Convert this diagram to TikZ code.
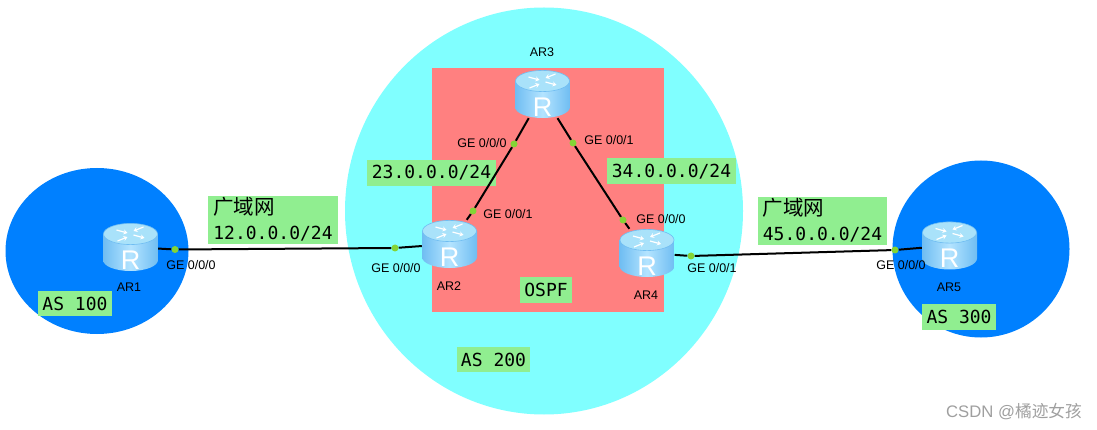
\documentclass[tikz,border=0pt]{standalone}
\usepackage{fontspec}
\setmainfont{Liberation Sans}
\setmonofont{DejaVu Sans Mono}
\newfontfamily\cjkfont{Noto Sans CJK SC}
\usepackage{xcolor}
\usepackage{tikz}
\usetikzlibrary{arrows.meta,positioning,shapes.geometric}
\definecolor{asblue}{HTML}{0080FF}
\definecolor{ascyan}{HTML}{80FFFF}
\definecolor{ospfred}{HTML}{FF8080}
\definecolor{tagbg}{HTML}{90EE90}
\definecolor{portdot}{HTML}{84D435}
\definecolor{routerside}{HTML}{6FBDF2}
\definecolor{routermid}{HTML}{B4E4FF}
\definecolor{routertop}{HTML}{A9E2FA}
\tikzset{
  region/.style={ellipse, inner sep=0pt},
  tag/.style={rectangle, fill=tagbg, inner sep=0pt, align=left,
              font=\ttfamily\fontsize{18}{25}\selectfont},
  port/.style={circle, minimum size=7pt, inner sep=0pt},
  portname/.style={inner sep=0pt, font=\fontsize{12.5}{14}\selectfont},
  routername/.style={inner sep=0pt, font=\fontsize{12.5}{14}\selectfont},
  link/.style={draw=black, line width=2pt},
  flow/.style={white, line width=1.2pt, -{Stealth[length=4pt,width=5pt]}},
  routermark/.style={inner sep=0pt, text=white, yshift=-13pt,
                     font=\fontsize{27}{27}\selectfont},
  router/.style={rectangle, minimum width=55pt, minimum height=48pt, inner sep=0pt,
    label={[routermark]center:R},
    path picture={
      \begin{scope}[shift={(path picture bounding box.center)}]
        \shade[left color=routerside, right color=routerside, middle color=routermid]
          (-27.5,-13) -- (-27.5,13) arc (180:360:27.5pt and 11pt) -- (27.5,-13) -- cycle;
        \filldraw[fill=routertop, draw=routerside, line width=0.6pt]
          (0,-13) ellipse (27pt and 10.6pt);
        \draw[flow] (-14,-17) -- (-3,-14);
        \draw[flow] (3,-12) -- (14,-9);
        \draw[flow] (13,-20) -- (3,-16);
        \draw[flow] (-13,-6) -- (-3,-10);
      \end{scope}
    }},
}
\begin{document}
\begin{tikzpicture}[x=1pt,y=-1pt]
  \useasboundingbox (0,0) rectangle (1097,430);
  \node[region, fill=asblue, minimum width=183pt, minimum height=166pt] (as100) at (97,251) {};
  \node[region, fill=asblue, minimum width=177pt, minimum height=177pt] (as300) at (981,249) {};
  \node[region, fill=ascyan, minimum width=398pt, minimum height=407pt] (as200) at (544,211) {};
  \node[rectangle, fill=ospfred, minimum width=232pt, minimum height=244pt, inner sep=0pt] (ospf) at (548,190) {};

  \node[tag, minimum width=130pt, minimum height=48pt] (wan12) at (273,220)
    {\raisebox{2.5pt}{\cjkfont\fontsize{20.5}{25}\selectfont 广域网}\\\raisebox{2.5pt}{12.0.0.0/24}};
  \node[tag, minimum width=129pt, minimum height=48pt] (wan45) at (822.5,221)
    {\raisebox{2.5pt}{\cjkfont\fontsize{20.5}{25}\selectfont 广域网}\\\raisebox{2.5pt}{45.0.0.0/24}};
  \node[tag, minimum width=129pt, minimum height=26pt] (net23) at (431.5,173) {23.0.0.0/24};
  \node[tag, minimum width=129pt, minimum height=26pt] (net34) at (671.5,171.5) {34.0.0.0/24};
  \node[tag, minimum width=52pt, minimum height=26pt] (tagospf) at (546,290) {OSPF};
  \node[tag, minimum width=74pt, minimum height=25pt] (tag100) at (75,303.5) {AS 100};
  \node[tag, minimum width=73pt, minimum height=25pt] (tag200) at (493.5,359.5) {AS 200};
  \node[tag, minimum width=74pt, minimum height=26pt] (tag300) at (959,317) {AS 300};

  \node[router] (ar1) at (130.5,247) {};
  \node[router] (ar2) at (449.5,244) {};
  \node[router] (ar3) at (542.5,94)  {};
  \node[router] (ar4) at (647,253)   {};
  \node[router] (ar5) at (949.5,245.5) {};

  \node[port] (p1a) at (175,249.5) {};
  \node[port] (p1b) at (395,248)   {};
  \node[port] (p2a) at (473,211)   {};
  \node[port] (p2b) at (514,144)   {};
  \node[port] (p3a) at (573,143)   {};
  \node[port] (p3b) at (623,220)   {};
  \node[port] (p4a) at (691,256)   {};
  \node[port] (p4b) at (895,250)   {};
  \draw[link] (ar1) -- (p1a) -- (p1b) -- (ar2);
  \draw[link] (ar2) -- (p2a) -- (p2b) -- (ar3);
  \draw[link] (ar3) -- (p3a) -- (p3b) -- (ar4);
  \draw[link] (ar4) -- (p4a) -- (p4b) -- (ar5);
  \foreach \p in {p1a,p1b,p2a,p2b,p3a,p3b,p4a,p4b}
    \fill[portdot] (\p) circle (3.5pt);

  \node[routername] (name1) at (129,287) {AR1};
  \node[routername] (name2) at (449,286) {AR2};
  \node[routername] (name3) at (542,52)  {AR3};
  \node[routername] (name4) at (646,295) {AR4};
  \node[routername] (name5) at (949,287) {AR5};

  \node[portname] (ge1a) at (191,265) {GE 0/0/0};
  \node[portname] (ge1b) at (396,268) {GE 0/0/0};
  \node[portname] (ge2a) at (508,214) {GE 0/0/1};
  \node[portname] (ge2b) at (482,143) {GE 0/0/0};
  \node[portname] (ge3a) at (609,140) {GE 0/0/1};
  \node[portname] (ge3b) at (661,219) {GE 0/0/0};
  \node[portname] (ge4a) at (712,268) {GE 0/0/1};
  \node[portname] (ge4b) at (901,265) {GE 0/0/0};

  \node[inner sep=0pt, text=gray!75, font=\fontsize{16.7}{18}\selectfont] (mark) at (1014,412)
    {CSDN @{\cjkfont 橘迹女孩}};
\end{tikzpicture}
\end{document}
